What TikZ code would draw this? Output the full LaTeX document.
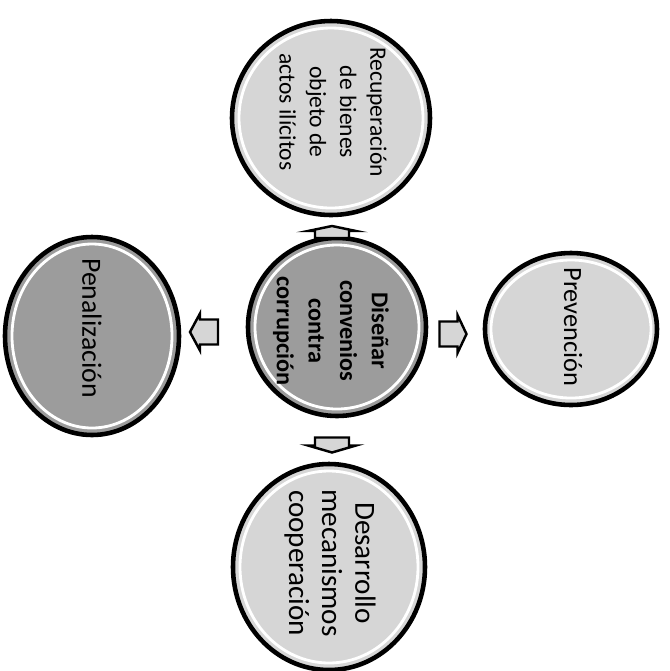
\documentclass[tikz,border=0pt]{standalone}
\usepackage{fontspec}
\setmainfont{Carlito}
\usetikzlibrary{shapes.geometric}
\definecolor{lightfill}{HTML}{D6D6D6}
\definecolor{darkfill}{HTML}{9C9C9C}
\tikzset{
  bubble/.style={ellipse, draw=black, line width=1.3pt, inner sep=0pt},
  ring/.style={draw=white, line width=0.8pt},
  label/.style={rotate=-90, align=center, inner sep=0pt},
  blockarrow/.style={draw=black, line width=0.7pt, fill=lightfill, line join=miter}
}
% arrow pointing +x: length #1, shaft half-width #2, head half-width #3, head length #4
\newcommand\myblockarrow[4]{%
  \draw[blockarrow] (-#1/2,-#2) -- (#1/2-#4,-#2) -- (#1/2-#4,-#3) -- (#1/2,0)
     -- (#1/2-#4,#3) -- (#1/2-#4,#2) -- (-#1/2,#2) -- cycle;}
\begin{document}
\begin{tikzpicture}[x=0.1mm,y=-0.1mm]
\useasboundingbox (0,0) rectangle (670,671);
% bubbles
\node[bubble, fill=lightfill, minimum width=19.8mm, minimum height=19.4mm] (T) at (331,118) {};
\node[bubble, fill=darkfill, minimum width=17.8mm, minimum height=17.8mm] (C) at (337,327) {};
\node[bubble, fill=darkfill, minimum width=17.4mm, minimum height=19.8mm] (L) at (92,336) {};
\node[bubble, fill=lightfill, minimum width=17.2mm, minimum height=15.2mm] (R) at (571,329) {};
\node[bubble, fill=lightfill, minimum width=19.2mm, minimum height=20.6mm] (B) at (329,567) {};
% inner rings
\draw[ring] (T.center) ellipse [x radius=92, y radius=90];
\draw[ring] (C.center) ellipse [x radius=82, y radius=82];
\draw[ring] (L.center) ellipse [x radius=80, y radius=92];
\draw[ring] (R.center) ellipse [x radius=80, y radius=69];
\draw[ring] (B.center) ellipse [x radius=89, y radius=96];
% labels
\node[label, font=\fontsize{6.7}{8.6}\selectfont] (tT) at (333,112) {Recuperación\\de bienes\\objeto de\\actos ilícitos};
\node[label, font=\fontsize{6.9}{9.0}\selectfont\bfseries] (tC) at (331,331) {Diseñar\\convenios\\contra\\corrupción};
\node[label, font=\fontsize{7.9}{9}\selectfont] (tL) at (92,328) {Penalización};
\node[label, font=\fontsize{7.5}{9}\selectfont] (tR) at (573,327) {Prevención};
\node[label, font=\fontsize{8.3}{9.4}\selectfont] (tB) at (330,563) {Desarrollo\\mecanismos\\cooperación};
% block arrows
\begin{scope}[shift={(332,232)}, rotate=90]\myblockarrow{12}{17}{24}{5}\end{scope}
\begin{scope}[shift={(332,445)}, rotate=-90]\myblockarrow{15}{17}{24}{7}\end{scope}
\begin{scope}[shift={(204,332)}, rotate=180]\myblockarrow{28}{12.5}{18.5}{10}\end{scope}
\begin{scope}[shift={(453,334)}]\myblockarrow{27}{12.5}{19}{9}\end{scope}
\end{tikzpicture}
\end{document}
